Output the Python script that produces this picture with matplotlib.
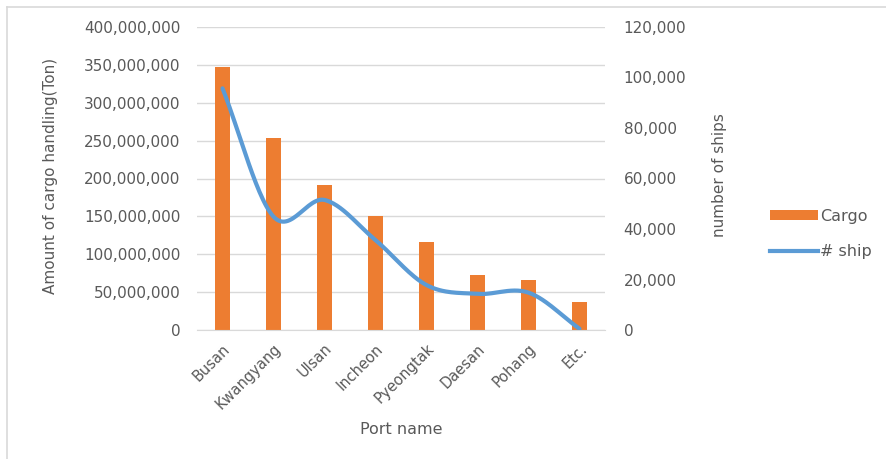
import numpy as np
import matplotlib.pyplot as plt
from matplotlib.patches import Patch
from matplotlib.lines import Line2D
from matplotlib.ticker import FuncFormatter

ports = ["Busan", "Kwangyang", "Ulsan", "Incheon", "Pyeongtak", "Daesan", "Pohang", "Etc."]
cargo = [347e6, 254e6, 191e6, 150e6, 116.5e6, 72e6, 65.5e6, 37.5e6]
ships = [95700, 44900, 51500, 35600, 17800, 14300, 14800, 500]

bar_color = "#ED7D31"
line_color = "#5B9BD5"
text_color = "#595959"
grid_color = "#D9D9D9"
font = "DejaVu Sans"


def catmull_rom(x, y, n=30):
    # smooth curve through the points, like Excel's smoothed line
    x = np.asarray(x, float)
    y = np.asarray(y, float)
    px = np.concatenate([[2 * x[0] - x[1]], x, [2 * x[-1] - x[-2]]])
    py = np.concatenate([[2 * y[0] - y[1]], y, [2 * y[-1] - y[-2]]])
    xs, ys = [], []
    t = np.linspace(0, 1, n)
    for i in range(1, len(px) - 2):
        for p, out in ((px, xs), (py, ys)):
            p0, p1, p2, p3 = p[i - 1], p[i], p[i + 1], p[i + 2]
            out.extend(0.5 * (2 * p1 + (-p0 + p2) * t
                              + (2 * p0 - 5 * p1 + 4 * p2 - p3) * t ** 2
                              + (-p0 + 3 * p1 - 3 * p2 + p3) * t ** 3))
    return np.array(xs), np.array(ys)


fig = plt.figure(figsize=(8.86, 4.59), dpi=100)
ax = fig.add_axes([197 / 886, 129 / 459, 408 / 886, 303 / 459])
ax2 = ax.twinx()

x = np.arange(len(ports))
ax.bar(x, cargo, width=0.29, color=bar_color, zorder=2)
ax.set_xlim(-0.5, len(ports) - 0.5)
ax.set_ylim(0, 400e6)
ax.set_yticks(np.arange(0, 400e6 + 1, 50e6))
ax.yaxis.set_major_formatter(FuncFormatter(lambda v, p: f"{v:,.0f}"))
ax.grid(axis="y", color=grid_color, linewidth=1, zorder=0)
ax.set_axisbelow(True)

sx, sy = catmull_rom(x, ships)
ax2.plot(sx, sy, color=line_color, linewidth=3, solid_capstyle="round", zorder=3)
ax2.set_ylim(0, 120000)
ax2.set_yticks(np.arange(0, 120001, 20000))
ax2.yaxis.set_major_formatter(FuncFormatter(lambda v, p: f"{v:,.0f}"))

for a in (ax, ax2):
    for s in a.spines.values():
        s.set_visible(False)
    a.tick_params(length=0, labelsize=11, labelcolor=text_color)
    for lab in a.get_yticklabels():
        lab.set_fontfamily(font)
ax.spines["bottom"].set_visible(True)
ax.spines["bottom"].set_color(grid_color)
ax.tick_params(axis="y", pad=12)
ax2.tick_params(axis="y", pad=13.5)

ax.set_xticks(x)
ax.set_xticklabels(ports, rotation=45, ha="right", rotation_mode="anchor",
                   fontfamily=font, fontsize=10.5, color=text_color)
ax.tick_params(axis="x", pad=8)

ax.set_xlabel("Port name", fontfamily=font, fontsize=11.5, color=text_color, labelpad=7)
ax.set_ylabel("Amount of cargo handling(Ton)", fontfamily=font, fontsize=11,
              color=text_color)
ax.yaxis.set_label_coords(-0.34, 0.51)
ax2.set_ylabel("number of ships", fontfamily=font, fontsize=11, color=text_color)
ax2.yaxis.set_label_coords(1.262, 0.51)

handles = [Patch(facecolor=bar_color), Line2D([0], [0], color=line_color, linewidth=3)]
fig.legend(handles, ["Cargo", "# ship"], loc="center left", bbox_to_anchor=(756 / 886, 1 - 234 / 459),
           frameon=False, prop={"family": font, "size": 11.5}, labelcolor=text_color,
           handlelength=3.0, handleheight=0.6, handletextpad=0.1, labelspacing=1.25)

# light frame along the top and left edges
fig.add_artist(Line2D([6.5 / 886, 6.5 / 886], [0, 1 - 6.5 / 459], transform=fig.transFigure,
                      color="#D9D9D9", linewidth=1.2))
fig.add_artist(Line2D([6.5 / 886, 1], [1 - 6.5 / 459, 1 - 6.5 / 459], transform=fig.transFigure,
                      color="#D9D9D9", linewidth=1.2))

fig.savefig("out.png", dpi=100, facecolor="white")
